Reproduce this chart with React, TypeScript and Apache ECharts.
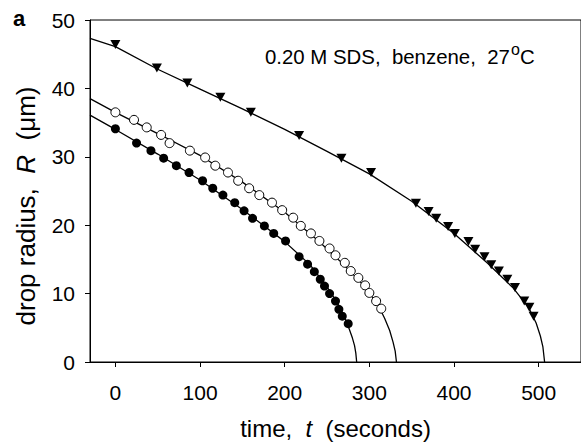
import React, { useEffect, useRef } from "react";
import * as echarts from "echarts";

// ---- data ----
const xTicks = [0, 100, 200, 300, 400, 500];

// filled circles
const filledT = [0, 25, 42, 57, 72, 87, 103, 115, 127, 141, 152, 162, 176, 187, 201, 217, 227, 235, 242, 247, 253, 260, 264, 268, 275];
const filledR = [34.1, 32.0, 30.9, 29.8, 28.7, 27.7, 26.5, 25.4, 24.4, 23.3, 22.1, 21.0, 19.9, 18.8, 17.7, 15.4, 14.3, 13.2, 12.1, 11.1, 10.0, 8.9, 7.7, 6.7, 5.6];

// open circles
const openT = [0, 22, 37, 54, 64, 88, 106, 118, 133, 145, 158, 170, 185, 197, 210, 219, 231, 241, 253, 260, 271, 278, 287, 295, 300, 308, 314];
const openR = [36.5, 35.4, 34.3, 33.2, 32.0, 30.9, 29.9, 28.7, 27.7, 26.5, 25.4, 24.4, 23.3, 22.2, 21.1, 19.9, 18.8, 17.7, 16.6, 15.6, 14.5, 13.3, 12.3, 11.2, 10.1, 8.9, 7.8];

// triangles
const triT = [0, 49, 85, 124, 160, 217, 267, 302, 355, 370, 379, 393, 401, 417, 425, 436, 444, 453, 463, 472, 483, 489, 494];
const triR = [46.4, 43.0, 40.8, 38.7, 36.5, 33.1, 29.8, 27.7, 23.2, 22.0, 21.0, 19.8, 18.8, 17.6, 16.5, 15.4, 14.2, 13.3, 12.1, 10.9, 8.9, 8.0, 6.7];

// fitted curves
const fitFilledT = [-30, 0, 50, 100, 150, 200, 230, 250, 262, 270, 276, 280, 282.5, 284, 285];
const fitFilledR = [36.1, 34.0, 30.4, 26.6, 22.3, 17.6, 14.2, 11.0, 8.7, 6.8, 4.9, 3.5, 2.4, 1.3, 0];

const fitOpenT = [-30, 0, 50, 100, 150, 200, 240, 270, 295, 310, 318, 324, 328, 330.5, 332];
const fitOpenR = [38.5, 36.5, 33.4, 30.2, 26.3, 21.9, 17.7, 14.2, 11.0, 8.4, 6.4, 4.6, 2.9, 1.6, 0];

const fitTriT = [-30, 0, 50, 100, 150, 200, 250, 300, 350, 400, 440, 470, 488, 497, 502, 505, 507];
const fitTriR = [47.3, 46.1, 42.8, 39.9, 37.0, 34.0, 30.8, 27.5, 23.5, 18.8, 14.4, 10.8, 8.0, 5.7, 3.8, 2.2, 0];

const FONT = "'Liberation Sans', Arial, Helvetica, sans-serif";

const zip = (xs: number[], ys: number[]) => xs.map((x, i) => [x, ys[i]]);

export default function App() {
  const ref = useRef<HTMLDivElement>(null);

  useEffect(() => {
    const chart = echarts.init(ref.current!, null, { renderer: "svg" });
    const lineStyle = { color: "#000", width: 1.3 };
    const fitSeries = (data: number[][]) => ({
      type: "line",
      data,
      showSymbol: false,
      symbol: "none",
      smooth: false,
      lineStyle,
      z: 2,
      silent: true,
    });
    chart.setOption({
      animation: false,
      backgroundColor: "#fff",
      textStyle: { fontFamily: FONT, color: "#000" },
      grid: {
        left: 90,
        right: -2,
        top: 20,
        bottom: 80,
        show: true,
        borderColor: "#000",
        borderWidth: 1,
        backgroundColor: "transparent",
      },
      xAxis: {
        type: "value",
        min: -30,
        max: 550,
        axisLine: { show: true, onZero: false, lineStyle: { color: "#000", width: 1 } },
        axisTick: { show: true, inside: false, length: 5, customValues: xTicks, lineStyle: { color: "#000" } },
        axisLabel: { customValues: xTicks, fontSize: 21, color: "#000", margin: 20, fontFamily: FONT },
        splitLine: { show: false },
        name: "{n|time,  }{i|t}{n|  (seconds)}",
        nameLocation: "middle",
        nameGap: 54,
        nameTextStyle: {
          fontSize: 24,
          fontFamily: FONT,
          color: "#000",
          rich: {
            n: { fontSize: 24, fontFamily: FONT, color: "#000" },
            i: { fontSize: 24, fontFamily: FONT, fontStyle: "italic", color: "#000" },
          },
        },
      },
      yAxis: {
        type: "value",
        min: 0,
        max: 50,
        interval: 10,
        axisLine: { show: true, onZero: false, lineStyle: { color: "#000", width: 1 } },
        axisTick: { show: true, inside: false, length: 5, lineStyle: { color: "#000" } },
        axisLabel: { fontSize: 21, color: "#000", margin: 15, fontFamily: FONT },
        splitLine: { show: false },
      },
      graphic: [
        {
          type: "text",
          x: 13,
          y: 18,
          style: { text: "a", fontSize: 22, fontWeight: "bold", fontFamily: FONT, fill: "#000", verticalAlign: "middle", align: "left" },
        },
        {
          type: "text",
          x: 265,
          y: 57,
          style: { text: "0.20 M SDS,  benzene,  27", fontSize: 20.4, fontFamily: FONT, fill: "#000", verticalAlign: "middle", align: "left" },
        },
        {
          type: "text",
          x: 511,
          y: 49,
          style: { text: "o", fontSize: 16, fontFamily: FONT, fill: "#000", verticalAlign: "middle", align: "left" },
        },
        {
          type: "text",
          x: 520,
          y: 57,
          style: { text: "C", fontSize: 20.4, fontFamily: FONT, fill: "#000", verticalAlign: "middle", align: "left" },
        },
        {
          type: "text",
          x: 26,
          y: 206,
          rotation: Math.PI / 2,
          style: {
            text: "{n|drop radius,  }{i|R}{n|  (μm)}",
            fontSize: 26,
            fontFamily: FONT,
            fill: "#000",
            align: "center",
            verticalAlign: "middle",
            rich: {
              n: { fontSize: 26, fontFamily: FONT, fill: "#000" },
              i: { fontSize: 26, fontFamily: FONT, fontStyle: "italic", fill: "#000" },
            },
          },
        },
      ],
      series: [
        fitSeries(zip(fitTriT, fitTriR)),
        fitSeries(zip(fitOpenT, fitOpenR)),
        fitSeries(zip(fitFilledT, fitFilledR)),
        {
          type: "scatter",
          data: zip(triT, triR),
          symbol: "triangle",
          symbolRotate: 180,
          symbolSize: [10, 9],
          itemStyle: { color: "#000", opacity: 1 },
          z: 3,
        },
        {
          type: "scatter",
          data: zip(openT, openR),
          symbol: "circle",
          symbolSize: 9,
          itemStyle: { color: "#fff", borderColor: "#000", borderWidth: 1, opacity: 1 },
          z: 3,
        },
        {
          type: "scatter",
          data: zip(filledT, filledR),
          symbol: "circle",
          symbolSize: 9,
          itemStyle: { color: "#000", opacity: 1 },
          z: 3,
        },
      ],
    });
    return () => chart.dispose();
  }, []);

  return (
    <div
      ref={ref}
      style={{ position: "fixed", left: 0, top: 0, width: 581, height: 445, background: "#fff" }}
    />
  );
}
